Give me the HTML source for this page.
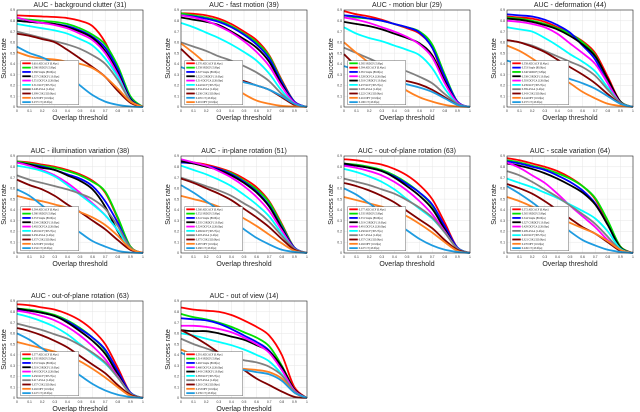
<!DOCTYPE html>
<html><head><meta charset="utf-8">
<style>
html,body{margin:0;padding:0;background:#fff;}
svg{display:block;font-family:"Liberation Sans",sans-serif;}
</style></head>
<body>
<svg id="fig" width="640" height="412" viewBox="0 0 640 412"></svg>
<script>
const xThresholds=[0,0.1,0.2,0.3,0.4,0.5,0.6,0.7,0.8,0.9,1];
const yTicks=[0,0.1,0.2,0.3,0.4,0.5,0.6,0.7,0.8,0.9];
const xTicks=[0,0.1,0.2,0.3,0.4,0.5,0.6,0.7,0.8,0.9,1];
const trackerNames=["ADCACF","SRDCF","Staple","CSRDCF","DCFCA","KCF","ASLA","CSK","DFT","CT"];
const trackerFps=["[0.4fps]","[5.8fps]","[80.0fps]","[13.0fps]","[126.0fps]","[305.7fps]","[1.4fps]","[320.0fps]","[10.0fps]","[45.0fps]"];
const colors=["#ff0000","#00e000","#0000ff","#000000","#ff00ff","#00ffff","#808080","#800000","#ff8020","#1e9be0"];
const titles=["AUC  - background clutter (31)","AUC  - fast motion (39)","AUC  - motion blur (29)","AUC  - deformation (44)",
"AUC  - illumination variation (38)","AUC  - in-plane rotation (51)","AUC  - out-of-plane rotation (63)","AUC  - scale variation (64)",
"AUC  - out-of-plane rotation (63)","AUC  - out of view (14)"];
const bgClutter=[[.85,.845,.84,.835,.825,.80,.75,.60,.35,.08,0],[.82,.81,.80,.79,.77,.73,.67,.58,.38,.1,0],[.80,.79,.78,.77,.75,.71,.65,.55,.35,.08,0],[.80,.79,.78,.77,.74,.70,.64,.52,.32,.07,0],[.83,.80,.78,.76,.73,.68,.62,.50,.30,.06,0],[.77,.75,.73,.71,.68,.63,.57,.45,.28,.06,0],[.70,.67,.64,.61,.58,.54,.48,.40,.25,.06,0],[.68,.66,.63,.60,.53,.45,.37,.28,.15,.04,0],[.51,.47,.45,.44,.42,.40,.36,.28,.17,.05,0],[.56,.50,.46,.40,.30,.20,.11,.05,.02,.005,0]];
const fastMotion=[[.87,.865,.85,.82,.77,.70,.62,.48,.25,.05,0],[.87,.85,.83,.80,.75,.68,.60,.47,.24,.05,0],[.85,.84,.82,.79,.74,.67,.58,.45,.23,.05,0],[.83,.81,.79,.76,.70,.63,.55,.42,.21,.04,0],[.85,.83,.80,.75,.69,.61,.51,.38,.19,.04,0],[.78,.74,.69,.64,.58,.51,.43,.31,.15,.03,0],[.60,.56,.52,.47,.43,.38,.32,.24,.12,.03,0],[.54,.43,.35,.30,.27,.24,.20,.16,.09,.02,0],[.59,.50,.40,.30,.20,.12,.06,.03,.01,.005,0],[.37,.33,.30,.28,.26,.23,.20,.16,.10,.03,0]];
const motionBlur=[[.89,.86,.84,.81,.77,.73,.68,.55,.25,.04,0],[.85,.83,.82,.80,.77,.74,.70,.58,.30,.05,0],[.85,.84,.82,.80,.77,.74,.69,.55,.28,.05,0],[.79,.77,.75,.72,.68,.64,.59,.48,.24,.04,0],[.83,.81,.78,.74,.70,.65,.58,.46,.22,.04,0],[.74,.68,.64,.61,.57,.53,.48,.36,.17,.03,0],[.55,.50,.45,.40,.37,.33,.28,.22,.12,.03,0],[.49,.38,.31,.28,.26,.24,.21,.16,.09,.02,0],[.60,.50,.41,.32,.23,.15,.09,.05,.02,.005,0],[.38,.34,.30,.27,.24,.21,.18,.14,.08,.02,0]];
const deformation=[[.84,.83,.82,.79,.74,.68,.61,.50,.28,.05,0],[.83,.82,.80,.77,.73,.68,.60,.48,.25,.05,0],[.86,.85,.84,.81,.76,.69,.57,.44,.22,.04,0],[.82,.81,.79,.76,.72,.66,.58,.47,.26,.05,0],[.80,.79,.77,.74,.68,.59,.50,.40,.22,.04,0],[.74,.72,.70,.64,.57,.49,.42,.33,.18,.04,0],[.62,.60,.57,.52,.47,.42,.37,.29,.16,.04,0],[.62,.60,.56,.51,.44,.37,.30,.22,.12,.03,0],[.57,.52,.45,.37,.29,.22,.14,.08,.03,.01,0],[.43,.40,.37,.33,.30,.26,.22,.17,.10,.03,0]];
const illumination=[[.85,.84,.82,.80,.77,.73,.67,.56,.32,.06,0],[.85,.83,.81,.79,.76,.72,.66,.57,.33,.06,0],[.84,.82,.80,.77,.73,.69,.62,.48,.28,.05,0],[.84,.82,.79,.77,.72,.67,.59,.43,.20,.04,0],[.84,.81,.77,.72,.65,.56,.46,.35,.21,.04,0],[.81,.79,.76,.71,.63,.54,.45,.35,.21,.04,0],[.72,.68,.65,.62,.59,.55,.50,.41,.25,.05,0],[.68,.63,.59,.53,.45,.38,.30,.22,.12,.03,0],[.53,.50,.48,.45,.42,.38,.33,.26,.16,.04,0],[.59,.53,.44,.36,.27,.19,.11,.06,.02,.005,0]];
const inPlane=[[.86,.84,.82,.79,.75,.69,.61,.48,.27,.05,0],[.86,.84,.81,.78,.74,.67,.59,.47,.26,.05,0],[.84,.83,.81,.78,.73,.66,.57,.44,.24,.05,0],[.85,.83,.80,.77,.72,.65,.56,.43,.23,.04,0],[.87,.84,.81,.76,.70,.62,.52,.39,.21,.04,0],[.81,.77,.73,.68,.62,.54,.45,.34,.18,.04,0],[.70,.66,.62,.58,.53,.46,.39,.29,.16,.04,0],[.69,.65,.60,.55,.49,.41,.33,.24,.13,.03,0],[.53,.50,.47,.43,.38,.32,.25,.17,.09,.02,0],[.63,.56,.48,.40,.31,.22,.14,.08,.03,.01,0]];
const outOfPlane=[[.87,.86,.84,.82,.78,.72,.63,.50,.28,.05,0],[.83,.82,.80,.77,.72,.65,.56,.44,.24,.05,0],[.82,.81,.79,.76,.71,.64,.56,.45,.25,.05,0],[.83,.81,.79,.76,.70,.62,.53,.41,.22,.04,0],[.81,.79,.76,.72,.66,.58,.48,.36,.20,.04,0],[.78,.75,.71,.66,.59,.50,.41,.32,.19,.04,0],[.69,.66,.63,.59,.55,.49,.42,.33,.19,.04,0],[.65,.62,.58,.53,.47,.39,.31,.23,.12,.03,0],[.52,.49,.46,.43,.39,.34,.27,.19,.10,.02,0],[.60,.54,.46,.38,.29,.21,.13,.07,.03,.01,0]];
const scaleVar=[[.88,.86,.83,.80,.76,.70,.62,.50,.28,.06,0],[.86,.84,.81,.78,.74,.69,.62,.51,.30,.06,0],[.85,.83,.80,.77,.72,.66,.58,.46,.26,.05,0],[.83,.81,.78,.74,.69,.63,.56,.45,.26,.05,0],[.84,.79,.72,.65,.55,.44,.34,.24,.12,.03,0],[.69,.65,.61,.56,.51,.45,.39,.32,.20,.04,0],[.76,.72,.66,.59,.52,.44,.36,.27,.15,.03,0],[.64,.60,.55,.48,.40,.32,.24,.18,.10,.02,0],[.52,.48,.43,.38,.33,.28,.23,.18,.11,.03,0],[.62,.55,.47,.38,.29,.20,.12,.07,.03,.01,0]];
const outOfView=[[.84,.82,.81,.80,.77,.72,.66,.58,.40,.10,0],[.78,.75,.73,.70,.66,.61,.56,.48,.30,.08,0],[.74,.73,.72,.69,.64,.58,.52,.44,.28,.07,0],[.63,.62,.62,.60,.57,.54,.49,.43,.29,.08,0],[.67,.67,.66,.64,.61,.56,.50,.42,.26,.07,0],[.60,.58,.55,.52,.49,.45,.40,.34,.22,.06,0],[.55,.50,.46,.42,.38,.35,.33,.29,.21,.06,0],[.63,.57,.50,.42,.34,.26,.18,.12,.06,.01,0],[.45,.40,.35,.30,.28,.27,.26,.24,.18,.05,0],[.42,.37,.33,.30,.28,.26,.24,.22,.16,.05,0]];
const panelData=[bgClutter,fastMotion,motionBlur,deformation,illumination,inPlane,outOfPlane,scaleVar,outOfPlane,outOfView];

const NS="http://www.w3.org/2000/svg";
const svg=document.getElementById('fig');
const colX=[17,181,344,507], rowY=[10,156,301], W=126, H=97;
function mk(tag,attrs,parent){const e=document.createElementNS(NS,tag);for(const k in attrs)e.setAttribute(k,attrs[k]);parent.appendChild(e);return e;}
function smoothPath(pts){let d="M"+pts[0][0].toFixed(2)+","+pts[0][1].toFixed(2);
 for(let i=0;i<pts.length-1;i++){const p0=pts[Math.max(0,i-1)],p1=pts[i],p2=pts[i+1],p3=pts[Math.min(pts.length-1,i+2)];
  const c1=[p1[0]+(p2[0]-p0[0])/6,p1[1]+(p2[1]-p0[1])/6],c2=[p2[0]-(p3[0]-p1[0])/6,p2[1]-(p3[1]-p1[1])/6];
  d+=" C"+c1[0].toFixed(2)+","+c1[1].toFixed(2)+" "+c2[0].toFixed(2)+","+c2[1].toFixed(2)+" "+p2[0].toFixed(2)+","+p2[1].toFixed(2);}
 return d;}
panelData.forEach((series,pi)=>{
 const ox=colX[pi%4], oy=rowY[Math.floor(pi/4)];
 const sx=v=>ox+v*W, sy=v=>oy+H-(v/0.9)*H;
 const g=mk('g',{},svg);
 
 
 mk('rect',{x:ox,y:oy,width:W,height:H,fill:'#fff'},g);
 yTicks.forEach(t=>{mk('line',{x1:ox,x2:ox+W,y1:sy(t),y2:sy(t),stroke:'#e6e6e6','stroke-width':0.5},g);
  const tl=mk('text',{x:ox-2,y:sy(t)+1.2,'font-size':3.4,'text-anchor':'end',fill:'#333'},g);tl.textContent=t===0?'0':String(t);
  
  });
 xTicks.forEach(t=>{mk('line',{x1:sx(t),x2:sx(t),y1:oy,y2:oy+H,stroke:'#e6e6e6','stroke-width':0.5},g);
  const tl=mk('text',{x:sx(t),y:oy+H+5,'font-size':3.4,'text-anchor':'middle',fill:'#333'},g);tl.textContent=String(t);
  
  });
 const title=mk('text',{x:ox+W/2,y:oy-3,'font-size':7,'text-anchor':'middle',fill:'#222'},g);title.textContent=titles[pi];
 
 
 const xl=mk('text',{x:ox+W/2,y:oy+H+13,'font-size':7,'text-anchor':'middle',fill:'#222'},g);xl.textContent='Overlap threshold';
 
 
 const yl=mk('text',{x:0,y:0,'font-size':7,'text-anchor':'middle',fill:'#222',transform:`translate(${ox-11},${oy+H/2}) rotate(-90)`},g);yl.textContent='Success rate';
 
 
 series.forEach((vals,si)=>{
  const p=mk('path',{d:smoothPath(vals.map((v,i)=>[sx(xThresholds[i]),sy(v)])),fill:'none',stroke:colors[si],'stroke-width':1.8},g);
  
  
 });
 mk('rect',{x:ox,y:oy,width:W,height:H,fill:'none',stroke:'#222','stroke-width':0.6},g);
 const auc=series.map(v=>v.reduce((a,b)=>a+b,0)/v.length);
 const order=series.map((_,i)=>i).sort((a,b)=>auc[b]-auc[a]);
 const lx=sx(0.03), ly=sy(0.43), lw=W*0.46, rowH=(sy(0.03)-sy(0.43))/10;
 const leg=mk('g',{},g);
 
 
 mk('rect',{x:lx,y:ly,width:lw,height:rowH*10+1,fill:'#fff',stroke:'#444','stroke-width':0.4},leg);
 order.forEach((si,r)=>{const yy=ly+rowH*(r+0.55)+0.3;
  const ln=mk('line',{x1:lx+1.5,x2:lx+10,y1:yy,y2:yy,stroke:colors[si],'stroke-width':1.8},leg);
  
  
  const t=mk('text',{x:lx+11,y:yy+1,'font-size':2.7,fill:'#111','font-family':'Liberation Serif,serif'},leg);
  t.textContent=auc[si].toFixed(3)+" "+trackerNames[si]+" "+trackerFps[si];
  
  
 });
});
</script>
</body></html>
